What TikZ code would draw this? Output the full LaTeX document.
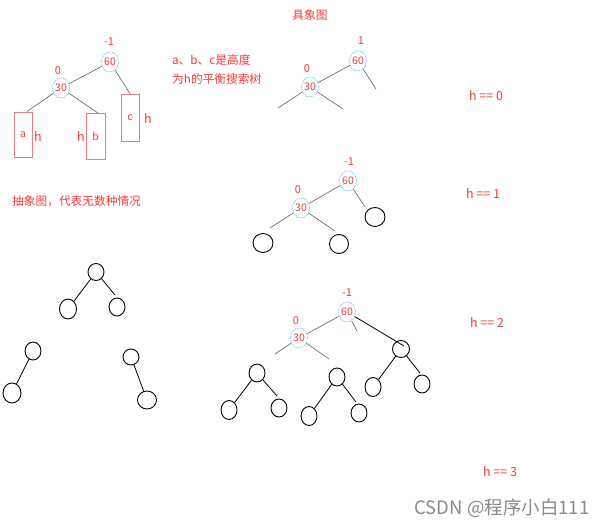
\documentclass[tikz,border=0pt]{standalone}
\usepackage{fontspec}
\setmainfont{Noto Sans CJK SC}
\usetikzlibrary{shapes.geometric}
\definecolor{rd}{HTML}{F53B3B}
\definecolor{bl}{HTML}{6CC8EE}
\definecolor{bx}{HTML}{EE7B7B}
\definecolor{ln}{HTML}{606060}
\definecolor{wm}{HTML}{8A8A8A}
\tikzset{
  bal/.style={ellipse, draw=bl, line width=0.7pt, dash pattern=on 1.3pt off 0.9pt,
    minimum width=17pt, minimum height=20pt, inner sep=0pt, text=rd,
    font=\fontsize{10.5}{11}\selectfont},
  bfac/.style={text=rd, inner sep=0pt, font=\fontsize{11}{12}\selectfont},
  blk/.style={ellipse, draw=black, line width=0.9pt, minimum width=17pt,
    minimum height=19pt, inner sep=0pt},
  hbox/.style={rectangle, draw=bx, line width=0.8pt, inner sep=0pt, text=rd,
    font=\fontsize{10.5}{11}\selectfont},
  rtxt/.style={text=rd, inner sep=0pt, font=\fontsize{11.7}{13}\selectfont},
  hlab/.style={text=rd, inner sep=0pt, font=\fontsize{12.5}{14}\selectfont},
  gedge/.style={draw=ln, line width=0.6pt},
  bedge/.style={draw=black, line width=0.8pt},
}
\begin{document}
\begin{tikzpicture}[x=1pt, y=-1pt]
\useasboundingbox (0,0) rectangle (612,526);
\fill[white] (0,0) rectangle (612,526);

% ---------- abstract tree with boxes ----------
\node[bal] (a60) at (110,62) {60};
\node[bfac] (a60f) at (109,42) {-1};
\node[bal] (a30) at (61,88) {30};
\node[bfac] (a30f) at (58,71) {0};
\node[hbox, minimum width=18pt, minimum height=45pt] (boxa) at (23,134.5) {a};
\node[hbox, minimum width=19pt, minimum height=46pt] (boxb) at (95.5,136) {b};
\node[hbox, minimum width=18pt, minimum height=47pt] (boxc) at (130,117.5) {c};
\node[hlab] (ha) at (38,137) {h};
\node[hlab] (hb) at (81,137) {h};
\node[hlab] (hc) at (148,119) {h};
\coordinate (ea) at (27,111.5);
\coordinate (eb) at (98,113);
\draw[gedge] (a60) -- (a30);
\draw[gedge] (a60) -- (boxc.north);
\draw[gedge] (a30) -- (ea);
\draw[gedge] (a30) -- (eb);

\node[rtxt, anchor=west] (t1) at (172,60) {a、b、c是高度};
\node[rtxt, anchor=west] (t2) at (172,79) {为h的平衡搜索树};
\node[rtxt] (t3) at (310,15) {具象图};
\node[rtxt, anchor=west] (t4) at (12,201) {抽象图，代表无数种情况};

% ---------- abstract shapes ----------
\node[blk, minimum width=16pt, minimum height=17pt] (c1) at (96,272) {};
\node[blk, minimum width=17pt, minimum height=20pt] (c2) at (68,309) {};
\node[blk, minimum width=16pt, minimum height=18pt] (c3) at (117,307) {};
\coordinate (c1r) at (115,295);
\draw[bedge] (c1) -- (c2);
\draw[bedge] (c1) -- (c1r);

\node[blk, minimum width=16pt, minimum height=18pt] (c4) at (33,351) {};
\node[blk, minimum width=18pt, minimum height=20pt] (c5) at (12,393) {};
\draw[bedge] (c4) -- (c5);

\node[blk, minimum width=16pt, minimum height=16pt] (c6) at (131,357) {};
\node[blk, minimum width=19pt, minimum height=18pt] (c7) at (147,400) {};
\draw[bedge] (c6) -- (c7);

% ---------- h == 0 ----------
\node[bal] (b60) at (358,61) {60};
\node[bfac] (b60f) at (361,41) {1};
\node[bal] (b30) at (310,87) {30};
\node[bfac] (b30f) at (307,69) {0};
\coordinate (b60r) at (376,89);
\coordinate (b30l) at (278,108);
\coordinate (b30r) at (343,109);
\draw[gedge] (b60) -- (b30);
\draw[gedge] (b60) -- (b60r);
\draw[gedge] (b30) -- (b30l);
\draw[gedge] (b30) -- (b30r);
\node[hlab] (h0) at (486,96) {h == 0};

% ---------- h == 1 ----------
\node[bal] (d60) at (348,181) {60};
\node[bfac] (d60f) at (349,162) {-1};
\node[bal] (d30) at (301,208) {30};
\node[bfac] (d30f) at (298,190) {0};
\node[blk, minimum width=20pt, minimum height=19pt] (d1) at (375,217) {};
\node[blk, minimum width=20pt, minimum height=19pt] (d2) at (263,243) {};
\node[blk, minimum width=19pt, minimum height=19pt] (d3) at (339,244) {};
\coordinate (d60r) at (365,207);
\coordinate (d30l) at (270,228);
\coordinate (d30r) at (335,231);
\draw[gedge] (d60) -- (d30);
\draw[gedge] (d60) -- (d60r);
\draw[gedge] (d30) -- (d30l);
\draw[gedge] (d30) -- (d30r);
\node[hlab] (h1) at (483,194) {h == 1};

% ---------- h == 2 ----------
\node[bal] (e60) at (347,312) {60};
\node[bfac] (e60f) at (347,293) {-1};
\node[bal] (e30) at (299,338) {30};
\node[bfac] (e30f) at (296,321) {0};
\coordinate (e60s) at (357,331);
\coordinate (e30l) at (275,354);
\coordinate (e30r) at (329,359);
\draw[gedge] (e60) -- (e30);
\draw[gedge] (e60) -- (e60s);
\draw[gedge] (e30) -- (e30l);
\draw[gedge] (e30) -- (e30r);

\node[blk, minimum width=17pt, minimum height=17pt] (r0) at (401,349) {};
\node[blk, minimum width=16pt, minimum height=19pt] (r1) at (373,387) {};
\node[blk, minimum width=16pt, minimum height=18pt] (r2) at (422,384) {};
\coordinate (rtop) at (404,346);
\coordinate (r0r) at (420,373);
\draw[bedge] (e60) -- (rtop);
\draw[bedge] (r0) -- (r1);
\draw[bedge] (r0) -- (r0r);

\node[blk, minimum width=16pt, minimum height=18pt] (l0) at (257,373) {};
\node[blk, minimum width=16pt, minimum height=19pt] (l1) at (229,410) {};
\node[blk, minimum width=16pt, minimum height=18pt] (l2) at (279,408) {};
\coordinate (l0r) at (277,396);
\draw[bedge] (l0) -- (l1);
\draw[bedge] (l0) -- (l0r);

\node[blk, minimum width=16pt, minimum height=18pt] (m0) at (337,377) {};
\node[blk, minimum width=16pt, minimum height=19pt] (m1) at (309,416) {};
\node[blk, minimum width=16pt, minimum height=18pt] (m2) at (359,413) {};
\coordinate (m0r) at (356,402);
\draw[bedge] (m0) -- (m1);
\draw[bedge] (m0) -- (m0r);
\node[hlab] (h2) at (487,323) {h == 2};

% ---------- h == 3 ----------
\node[hlab] (h3) at (500,472) {h == 3};

% ---------- watermark ----------
\node[text=wm, inner sep=0pt, font=\fontsize{18.5}{20}\selectfont] (wm) at (502,508) {CSDN @程序小白111};
\end{tikzpicture}
\end{document}
